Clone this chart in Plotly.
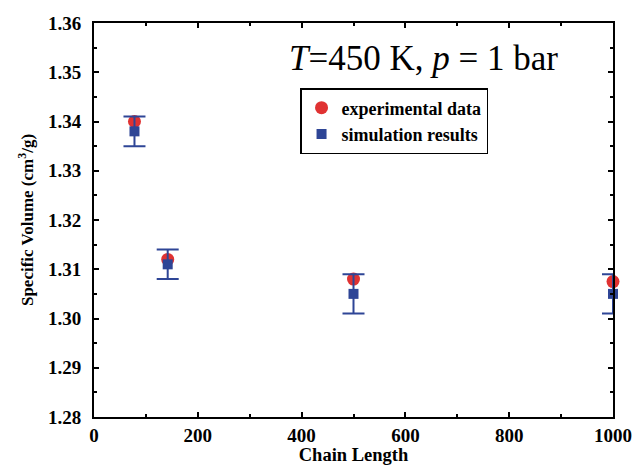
import plotly.graph_objects as go

chain_length = [78, 142, 500, 1000]
exp_volume = [1.340, 1.312, 1.308, 1.3075]
sim_volume = [1.338, 1.311, 1.305, 1.305]
sim_error = [0.003, 0.003, 0.004, 0.004]

x_ticks = [0, 200, 400, 600, 800, 1000]
x_tick_labels = ["<b>0</b>", "<b>200</b>", "<b>400</b>", "<b>600</b>", "<b>800</b>", "<b>1000</b>"]
y_ticks = [1.28, 1.29, 1.30, 1.31, 1.32, 1.33, 1.34, 1.35, 1.36]
y_tick_labels = ["<b>1.28</b>", "<b>1.29</b>", "<b>1.30</b>", "<b>1.31</b>", "<b>1.32</b>",
                 "<b>1.33</b>", "<b>1.34</b>", "<b>1.35</b>", "<b>1.36</b>"]

RED = "#e03232"
BLUE = "#2e4596"
FONT = "Liberation Serif"

fig = go.Figure()
fig.add_trace(go.Scatter(
    x=chain_length, y=exp_volume, mode="markers", name="<b>experimental data</b>",
    marker=dict(symbol="circle", size=13, color=RED), cliponaxis=False,
))
fig.add_trace(go.Scatter(
    x=chain_length, y=sim_volume, mode="markers", name="<b>simulation results</b>",
    marker=dict(symbol="square", size=10, color=BLUE), cliponaxis=False,
    error_y=dict(type="data", array=sim_error, visible=True, color=BLUE,
                 thickness=2, width=11),
))

axis_common = dict(
    showline=True, linecolor="black", linewidth=2, mirror="allticks",
    ticks="inside", tickcolor="black", ticklen=5, tickwidth=2,
    showgrid=False, zeroline=False, automargin=False,
    tickfont=dict(family=FONT, size=19, color="black"),
)

fig.update_xaxes(
    range=[0, 1000], tickmode="array", tickvals=x_ticks, ticktext=x_tick_labels,
    minor=dict(ticks="inside", ticklen=3, tickwidth=2, tickcolor="black", dtick=100, tick0=0),
    title=dict(text="<b>Chain Length</b>", font=dict(family=FONT, size=18.5, color="black"), standoff=2),
    **axis_common,
)
fig.update_yaxes(
    range=[1.28, 1.36], tickmode="array", tickvals=y_ticks, ticktext=y_tick_labels,
    minor=dict(ticks="inside", ticklen=3, tickwidth=2, tickcolor="black", dtick=0.005, tick0=1.28),
    ticklabelstandoff=7,
    title=dict(text="<b>Specific Volume (cm<sup>3</sup>/g)</b>", font=dict(family=FONT, size=17, color="black"), standoff=10),
    **axis_common,
)

fig.add_annotation(
    x=0.372, y=0.911, xref="paper", yref="paper", xanchor="left", yanchor="middle",
    text="<i>T</i>=450 K, <i>p</i> = 1 bar", showarrow=False,
    font=dict(family=FONT, size=35, color="black"),
)

fig.update_layout(
    width=634, height=465,
    margin=dict(l=94, r=21, t=23, b=48),
    paper_bgcolor="white", plot_bgcolor="white",
    showlegend=True,
    legend=dict(
        x=0.397, y=0.835, xanchor="left", yanchor="top",
        bordercolor="black", borderwidth=1.5, bgcolor="white",
        font=dict(family=FONT, size=18, color="black"),
        itemwidth=30, tracegroupgap=0,
    ),
)

fig.write_html("out.html", config={"displayModeBar": False},
               post_script="document.body.style.margin='0px';")
